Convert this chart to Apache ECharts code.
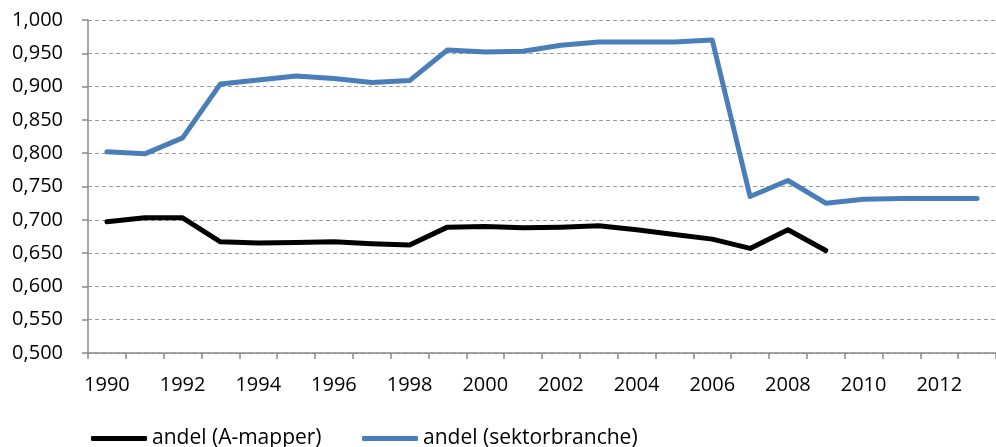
<!DOCTYPE html>
<html>
<head>
<meta charset="utf-8">
<script src="https://cdn.jsdelivr.net/npm/echarts@6/dist/echarts.min.js"></script>
<style>
  html, body { margin: 0; padding: 0; background: #fff; }
  #chart { width: 996px; height: 447px; }
</style>
</head>
<body>
<div id="chart"></div>
<script>
// årstal
const years = ['1990', '1991', '1992', '1993', '1994', '1995', '1996', '1997', '1998', '1999', '2000',
  '2001', '2002', '2003', '2004', '2005', '2006', '2007', '2008', '2009', '2010', '2011', '2012', '2013'];

// andel (A-mapper) - slutter i 2009
const andelAMapper = [0.697, 0.703, 0.703, 0.667, 0.665, 0.666, 0.667, 0.664, 0.662, 0.689, 0.690,
  0.688, 0.689, 0.691, 0.685, 0.678, 0.671, 0.657, 0.685, 0.654];

// andel (sektorbranche)
const andelSektor = [0.802, 0.799, 0.823, 0.904, 0.910, 0.916, 0.912, 0.906, 0.909, 0.955, 0.952,
  0.953, 0.962, 0.967, 0.967, 0.967, 0.970, 0.735, 0.759, 0.725, 0.731, 0.732, 0.732, 0.732];

const seriesNames = ['andel (A-mapper)', 'andel (sektorbranche)'];

const font = '"Open Sans", "Liberation Sans", sans-serif';
const axisGray = '#898989';

const myChart = echarts.init(document.getElementById('chart'));

// forklaringstekst løftet lidt i forhold til stregen
const legendText = { fontFamily: font, fontSize: 21, color: '#000', padding: [0, 0, 6, 0] };

myChart.setOption({
  backgroundColor: '#fff',
  animation: false,
  textStyle: { fontFamily: font },
  grid: {
    left: 88,
    right: -10, // plottet fortsætter ud over billedkanten
    top: 20,
    bottom: 94,
    containLabel: false
  },
  legend: [
    {
      data: [seriesNames[0]],
      left: 86,
      top: 423,
      icon: 'roundRect',
      itemWidth: 56,
      itemHeight: 5,
      textStyle: legendText
    },
    {
      data: [seriesNames[1]],
      left: 357,
      top: 423,
      icon: 'roundRect',
      itemWidth: 56,
      itemHeight: 5,
      textStyle: legendText
    }
  ],
  xAxis: {
    type: 'category',
    data: years,
    boundaryGap: true,
    axisLine: { lineStyle: { color: axisGray, width: 1.5 } },
    axisTick: {
      show: true,
      interval: 0,
      length: 6,
      lineStyle: { color: axisGray, width: 1.5 }
    },
    axisLabel: {
      interval: 1,
      margin: 22,
      color: '#000',
      fontSize: 20,
      fontFamily: font
    },
    splitLine: { show: false }
  },
  yAxis: {
    type: 'value',
    min: 0.5,
    max: 1.0,
    interval: 0.05,
    axisLine: { show: true, lineStyle: { color: axisGray, width: 1.5 } },
    axisTick: { show: true, length: 6, lineStyle: { color: axisGray, width: 1.5 } },
    axisLabel: {
      margin: 25,
      color: '#000',
      fontSize: 20,
      fontFamily: font,
      formatter: function (v) {
        return v.toFixed(3).replace('.', ',');
      }
    },
    splitLine: {
      show: true,
      lineStyle: { color: '#9a9a9a', width: 1, type: [4, 3] }
    }
  },
  series: [
    {
      name: seriesNames[0],
      type: 'line',
      data: andelAMapper,
      symbol: 'none',
      color: '#000000',
      lineStyle: { color: '#000000', width: 5, cap: 'round', join: 'round' },
      z: 3
    },
    {
      name: seriesNames[1],
      type: 'line',
      data: andelSektor,
      symbol: 'none',
      color: '#4a7ebb',
      lineStyle: { color: '#4a7ebb', width: 5, cap: 'round', join: 'round' },
      z: 2
    }
  ]
});
</script>
</body>
</html>
